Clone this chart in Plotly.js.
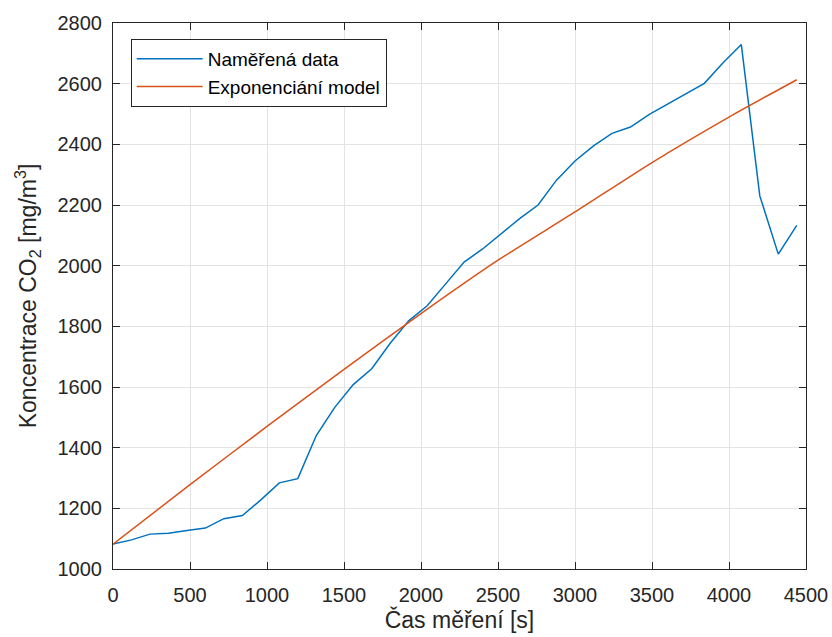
<!DOCTYPE html>
<html>
<head>
<meta charset="utf-8">
<script src="https://cdn.plot.ly/plotly-3.0.1.min.js"></script>
<style>html,body{margin:0;padding:0;background:#fff;}#chart{width:832px;height:637px;}</style>
</head>
<body>
<div id="chart"></div>
<script>
// Measured data (time [s], CO2 [mg/m3])
var timeMeasured = [0,120,240,360,480,600,720,840,960,1080,1200,1320,1440,1560,1680,1800,1920,2040,2160,2280,2400,2520,2640,2760,2880,3000,3120,3240,3360,3480,3600,3720,3840,3960,4080,4200,4320,4440];
var co2Measured = [1082,1096,1115,1118,1127,1135,1166,1176,1228,1284,1298,1440,1533,1608,1660,1744,1818,1868,1940,2012,2055,2106,2155,2200,2282,2345,2395,2436,2457,2498,2532,2566,2601,2668,2729,2230,2038,2133];
// Model curve
var timeModel = [0,500,1000,1500,2000,2500,3000,3500,4000,4440];
var co2Model = [1082,1278,1470,1658,1842,2018,2177,2340,2490,2613];
var seriesNames = ["Naměřená data", "Exponenciání model"];
var xTicks = [0,500,1000,1500,2000,2500,3000,3500,4000,4500];
var yTicks = [1000,1200,1400,1600,1800,2000,2200,2400,2600,2800];

var font = "Liberation Sans, Arial, sans-serif";
var traces = [
  {x: timeMeasured, y: co2Measured, type: "scatter", mode: "lines", name: seriesNames[0],
   line: {color: "#0072BD", width: 1.5}},
  {x: timeModel, y: co2Model, type: "scatter", mode: "lines", name: seriesNames[1],
   line: {color: "#D95319", width: 1.5, shape: "spline", smoothing: 0.6}}
];
var axisCommon = {
  showgrid: true, gridcolor: "#e3e3e3", gridwidth: 1,
  showline: true, linecolor: "#262626", linewidth: 1, mirror: "ticks",
  ticks: "inside", ticklen: 7, tickcolor: "#262626",
  zeroline: false, tickfont: {family: font, size: 20, color: "#262626"}
};
var layout = {
  width: 832, height: 637,
  margin: {l: 113, r: 26, t: 23, b: 68},
  paper_bgcolor: "#ffffff", plot_bgcolor: "#ffffff",
  showlegend: true,
  legend: {x: 0.0255, y: 0.971, xanchor: "left", yanchor: "top",
           bgcolor: "#ffffff", bordercolor: "#262626", borderwidth: 1,
           itemwidth: 66,
           font: {family: font, size: 19, color: "#000"}, tracegroupgap: 0},
  xaxis: Object.assign({}, axisCommon, {
    range: [0, 4500], tickvals: xTicks, ticktext: xTicks.map(String),
    ticklabelstandoff: 8,
    title: {text: "Čas měření [s]", font: {family: font, size: 23, color: "#262626"}, standoff: 6}
  }),
  yaxis: Object.assign({}, axisCommon, {
    range: [1000, 2800], tickvals: yTicks, ticktext: yTicks.map(String),
    ticklabelstandoff: 6,
    title: {text: "Koncentrace CO<sub>2</sub> [mg/m<sup>3</sup>]", font: {family: font, size: 23, color: "#262626"}, standoff: 14}
  })
};
Plotly.newPlot("chart", traces, layout, {displayModeBar: false, staticPlot: true});
</script>
</body>
</html>
